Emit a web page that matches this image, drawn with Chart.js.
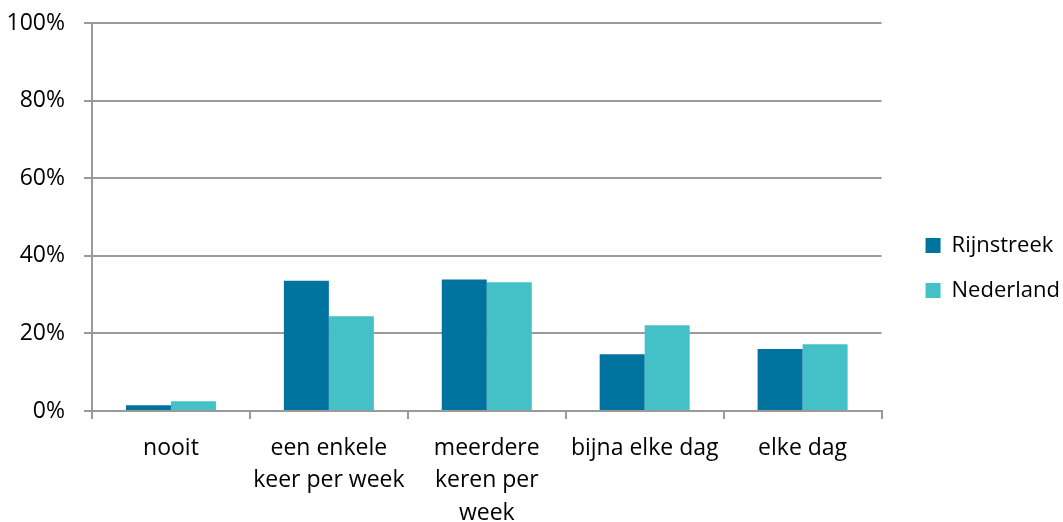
<!DOCTYPE html>
<html>
<head>
<meta charset="utf-8">
<script src="https://cdn.jsdelivr.net/npm/chart.js@4/dist/chart.umd.min.js"></script>
<style>
  html, body { margin: 0; padding: 0; background: #fff; }
  #wrap { width: 1063px; height: 522px; }
</style>
</head>
<body>
<div id="wrap"><canvas id="barChart" width="1063" height="522"></canvas></div>
<script>
const categories = [
  "nooit",
  ["een enkele", "keer per week"],
  ["meerdere", "keren per", "week"],
  "bijna elke dag",
  "elke dag",
];
const rijnstreek = [1.5, 33.6, 33.9, 14.6, 16.0];
const nederland = [2.5, 24.4, 33.2, 22.1, 17.2];
const yTicks = [0, 20, 40, 60, 80, 100];

const gridColor = "#9a9a9a";
const fontFamily = "'Open Sans', sans-serif";

const ctx = document.getElementById("barChart").getContext("2d");

new Chart(ctx, {
  type: "bar",
  data: {
    labels: categories,
    datasets: [
      {
        label: "Rijnstreek",
        data: rijnstreek,
        backgroundColor: "#00739e",
        categoryPercentage: 0.57,
        barPercentage: 1,
      },
      {
        label: "Nederland",
        data: nederland,
        backgroundColor: "#43c1c6",
        categoryPercentage: 0.57,
        barPercentage: 1,
      },
    ],
  },
  options: {
    responsive: false,
    animation: false,
    layout: { padding: { top: 0, left: 0, right: -7, bottom: 0 } },
    plugins: {
      legend: {
        position: "right",
        align: "center",
        title: { display: true, text: "", font: { size: 1 }, padding: { top: 6, bottom: 7 } },
        labels: {
          boxWidth: 15,
          boxHeight: 15,
          padding: 23,
          color: "#000",
          font: { family: fontFamily, size: 22 },
        },
      },
      tooltip: { enabled: false },
    },
    scales: {
      x: {
        grid: {
          offset: true,
          drawOnChartArea: false,
          color: gridColor,
          lineWidth: 2,
          tickLength: 8,
        },
        border: { color: gridColor, width: 2 },
        ticks: {
          color: "#000",
          padding: 13,
          maxRotation: 0,
          autoSkip: false,
          font: { family: fontFamily, size: 23, lineHeight: 1.41 },
        },
        afterFit: (scale) => {
          scale.height = 111;
        },
      },
      y: {
        min: 0,
        max: 100,
        afterBuildTicks: (scale) => {
          scale.ticks = yTicks.map((v) => ({ value: v }));
        },
        grid: { color: gridColor, lineWidth: 2, tickLength: 8 },
        border: { color: gridColor, width: 2 },
        ticks: {
          color: "#000",
          padding: 19,
          font: { family: fontFamily, size: 23 },
          callback: (v) => v + "%",
        },
        afterFit: (scale) => {
          scale.width = 92;
          scale.paddingTop = 23;
        },
      },
      spacer: {
        position: "right",
        grid: { display: false },
        border: { display: false },
        ticks: { display: false },
        afterFit: (scale) => {
          scale.width = 21;
        },
      },
    },
  },
});
</script>
</body>
</html>
